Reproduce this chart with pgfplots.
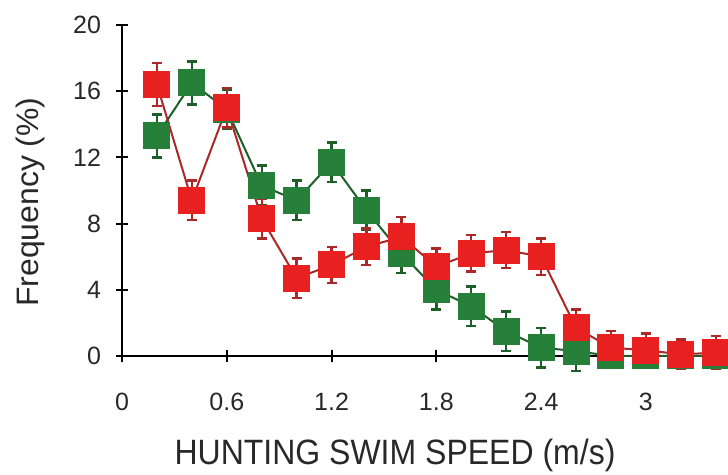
\documentclass[border=0pt]{standalone}
\usepackage{pgfplots}
\pgfplotsset{compat=1.18}
\usepackage{graphicx}
\usepackage{fontspec}
\setmainfont{Liberation Sans}
\definecolor{rfill}{RGB}{232,32,32}
\definecolor{rline}{RGB}{170,40,40}
\definecolor{gfill}{RGB}{38,128,58}
\definecolor{gline}{RGB}{30,95,40}
\definecolor{txt}{RGB}{40,40,40}
\begin{document}
\begin{tikzpicture}
\begin{axis}[
  at={(0,0)}, anchor=origin,
  scale only axis, width=303pt, height=165.5pt,
  xmin=0, xmax=3.47, ymin=0, ymax=20,
  axis lines=left, axis line style={-, line width=1pt, black},
  clip=false,
  xtick={0,0.6,1.2,1.8,2.4,3}, xticklabels={0,0.6,1.2,1.8,2.4,3},
  ytick={0,4,8,12,16,20},
  tick align=center, major tick length=6pt, tick style={line width=1pt, black},
  ticklabel style={font=\fontsize{12.5}{14}\selectfont, text=txt},
  xticklabel style={yshift=-12pt},
  yticklabel style={xshift=-4pt},
  /pgf/number format/assume math mode=true,
  xlabel={\scalebox{1}[1.1]{HUNTING SWIM SPEED (m/s)}},
  ylabel={\scalebox{1.03}[1]{Frequency (\%)}},
  xlabel style={font=\fontsize{16}{18}\selectfont, text=txt, yshift=-7pt, xshift=-15pt},
  ylabel style={font=\fontsize{15.5}{18}\selectfont, text=txt, at={(ticklabel cs:0.465)}, yshift=7pt},
]
\addplot[gline, line width=1pt, mark=square*, mark size=6.5pt,
  mark options={fill=gfill, draw=gfill, line width=0.5pt},
  error bars/.cd, y dir=both, y explicit,
  error bar style={gline, line width=1.2pt},
  error mark options={rotate=90, mark size=2.5pt, gline, line width=1.2pt}]
  coordinates {
  (0.2,13.3) +- (0,1.3)
  (0.4,16.5) +- (0,1.3)
  (0.6,14.9) +- (0,1.2)
  (0.8,10.3) +- (0,1.2)
  (1.0,9.4) +- (0,1.2)
  (1.2,11.7) +- (0,1.2)
  (1.4,8.8) +- (0,1.2)
  (1.6,6.2) +- (0,1.2)
  (1.8,4.0) +- (0,1.2)
  (2.0,3.0) +- (0,1.2)
  (2.2,1.5) +- (0,1.2)
  (2.4,0.5) +- (0,1.2)
  (2.6,0.3) +- (0,1.2)
  (2.8,0.0) +- (0,0.6)
  (3.0,0.0) +- (0,0.6)
  (3.2,0.0) +- (0,0.6)
  (3.4,0.0) +- (0,0.6)
  };
\addplot[rline, line width=1pt, mark=square*, mark size=6.5pt,
  mark options={fill=rfill, draw=rfill, line width=0.5pt},
  error bars/.cd, y dir=both, y explicit,
  error bar style={rline, line width=1.2pt},
  error mark options={rotate=90, mark size=2.5pt, rline, line width=1.2pt}]
  coordinates {
  (0.2,16.4) +- (0,1.3)
  (0.4,9.4) +- (0,1.2)
  (0.6,15.0) +- (0,1.2)
  (0.8,8.3) +- (0,1.2)
  (1.0,4.7) +- (0,1.2)
  (1.2,5.5) +- (0,1.1)
  (1.4,6.6) +- (0,1.1)
  (1.6,7.2) +- (0,1.2)
  (1.8,5.4) +- (0,1.1)
  (2.0,6.2) +- (0,1.1)
  (2.2,6.4) +- (0,1.1)
  (2.4,6.0) +- (0,1.1)
  (2.6,1.7) +- (0,1.1)
  (2.8,0.5) +- (0,1.0)
  (3.0,0.35) +- (0,1.0)
  (3.2,0.1) +- (0,0.9)
  (3.4,0.2) +- (0,1.0)
  };
\end{axis}
\pgfresetboundingbox
\path (-61pt,-59.5pt) rectangle (303pt,178pt);
\end{tikzpicture}
\end{document}
